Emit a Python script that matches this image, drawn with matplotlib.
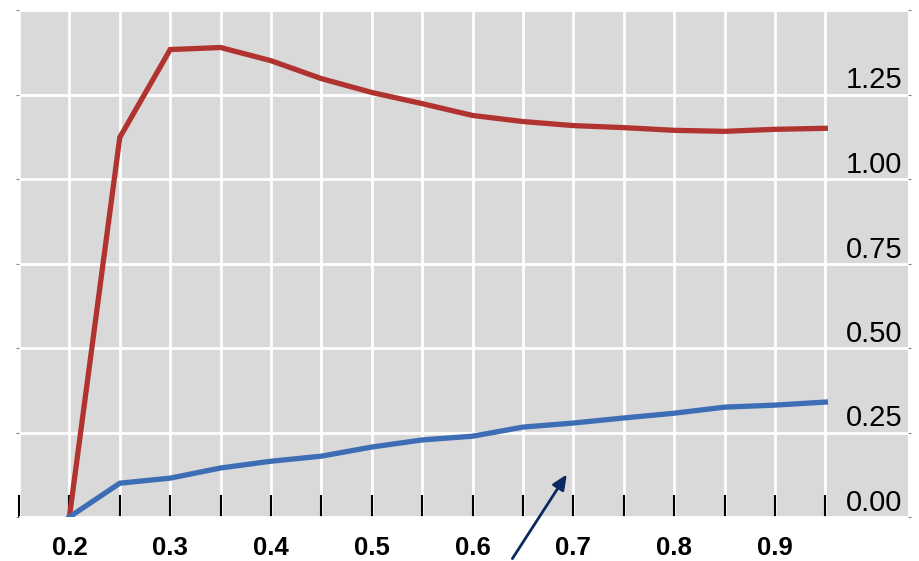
import matplotlib
matplotlib.use("Agg")
import matplotlib.pyplot as plt
import numpy as np

x = [0.2, 0.25, 0.3, 0.35, 0.4, 0.45, 0.5, 0.55, 0.6, 0.65, 0.7, 0.75, 0.8, 0.85, 0.9, 0.95]
red_values = [0.0, 1.123, 1.383, 1.389, 1.350, 1.297, 1.256, 1.223, 1.188, 1.170, 1.158, 1.152, 1.144, 1.141, 1.147, 1.150]
blue_values = [0.0, 0.100, 0.115, 0.145, 0.165, 0.180, 0.207, 0.228, 0.239, 0.266, 0.278, 0.293, 0.307, 0.325, 0.331, 0.340]
x_ticks = [0.15, 0.2, 0.25, 0.3, 0.35, 0.4, 0.45, 0.5, 0.55, 0.6, 0.65, 0.7, 0.75, 0.8, 0.85, 0.9, 0.95]
x_labels = ["", "0.2", "", "0.3", "", "0.4", "", "0.5", "", "0.6", "", "0.7", "", "0.8", "", "0.9", ""]
y_ticks = [0.0, 0.25, 0.5, 0.75, 1.0, 1.25, 1.5]
y_labels = ["0.00", "0.25", "0.50", "0.75", "1.00", "1.25", ""]

plt.rcParams['font.family'] = ['Liberation Sans', 'DejaVu Sans']

fig = plt.figure(figsize=(9.2, 5.61), dpi=100)
ax = fig.add_axes([19/920, 44/561, (908-19)/920, (517-10)/561])
ax.set_facecolor('#d9d9d9')

ax.plot(x, red_values, color='#b03330', lw=3.8, solid_joinstyle='miter', zorder=3)
ax.plot(x, blue_values, color='#3d6db4', lw=3.8, solid_joinstyle='miter', zorder=3)

ax.set_xlim(0.152, 1.032)
ax.set_ylim(0, 1.5)

ax.set_xticks(x_ticks)
ax.set_xticklabels(x_labels, fontsize=18.5, fontweight='bold')
ax.tick_params(axis='x', direction='in', length=16, width=1.5, color='black', pad=14)

ax.yaxis.tick_right()
ax.set_yticks(y_ticks)
ax.set_yticklabels(y_labels, fontsize=21)
ax.tick_params(axis='y', direction='out', length=2, width=0.8, color='#888888', pad=-6,
               left=True, right=True, labelleft=False, labelright=True)
for lab in ax.get_yticklabels():
    lab.set_horizontalalignment('right')
    lab.set_verticalalignment('bottom')

ax.grid(True, color='white', lw=2)
ax.set_axisbelow(True)
for s in ax.spines.values():
    s.set_visible(False)

ax.annotate('', xy=(0.695, 0.133), xytext=(0.638, -0.13),
            arrowprops=dict(arrowstyle='-|>,head_length=0.9,head_width=0.4', color='#0b2a60', lw=2),
            annotation_clip=False, zorder=5)

fig.savefig('out.png', dpi=100)
